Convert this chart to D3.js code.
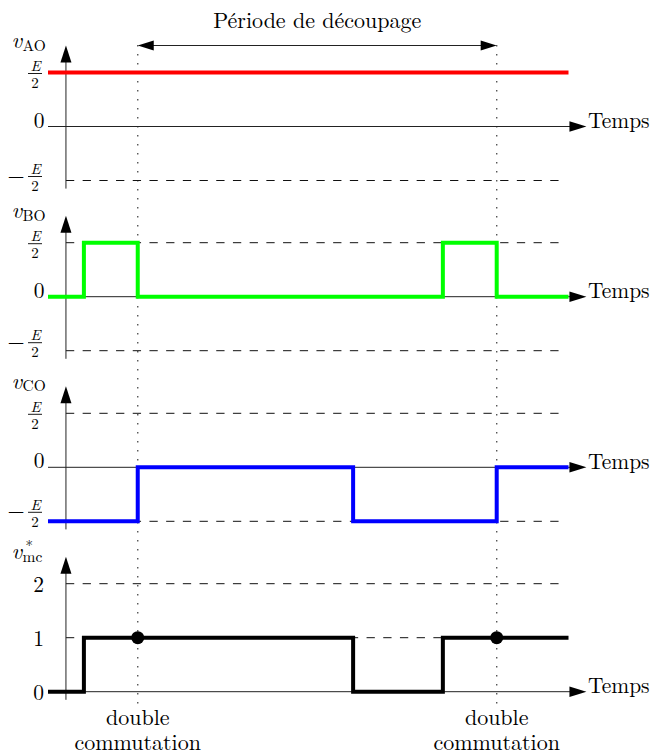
<!DOCTYPE html>
<html>
<head>
<meta charset="utf-8">
<script src="https://cdn.jsdelivr.net/npm/d3@7"></script>
<style>
  html, body { margin: 0; padding: 0; background: #fff; }
  svg { display: block; }
</style>
</head>
<body>
<svg id="chart" width="653" height="755"></svg>
<script>
// ---------------- DATA ----------------
const title = "Période de découpage";
const axisLabel = "Temps";
const commutationLabel = ["double", "commutation"];

// time in arbitrary units (switching instants)
const commutationTimes = [5, 25];

// v_AO (red)
const timesAO = [0, 29];
const valuesAO = [1, 1];
// v_BO (green)
const timesBO = [0, 2, 5, 22, 25, 29];
const valuesBO = [0, 1, 0, 1, 0, 0];
// v_CO (blue)
const timesCO = [0, 5, 17, 25, 29];
const valuesCO = [-1, 0, -1, 0, 0];
// v*_mc (black)
const timesMC = [0, 2, 17, 22, 29];
const valuesMC = [0, 1, 0, 1, 1];

// levels / tick labels
const levelsHalf = [1, 0, -1];          // E/2, 0, -E/2
const tickLabelsHalf = ["E/2", "0", "-E/2"];
const levelsMC = [2, 1, 0];
const tickLabelsMC = ["2", "1", "0"];
const dotValue = 1;

// ---------------- LAYOUT ----------------
const FONT = '"Latin Modern Roman", "CMU Serif", "Liberation Serif", serif';
const svg = d3.select("#chart");
const x = d3.scaleLinear().domain([0, 29]).range([48, 568.5]);
const tEnd = 30;      // axis arrow tip
const tGuideEnd = 28.5;
const tAxis = 1;      // vertical axis position

const panels = [
  { sub: "AO", star: false, color: "#ff0000", times: timesAO, values: valuesAO, dom: [-1, 1], top: 72.5, levels: levelsHalf, labels: tickLabelsHalf, guides: [1, -1], negOff: -4 },
  { sub: "BO", star: false, color: "#00ff00", times: timesBO, values: valuesBO, dom: [-1, 1], top: 242.7, levels: levelsHalf, labels: tickLabelsHalf, guides: [1, -1], negOff: -8 },
  { sub: "CO", star: false, color: "#0000ff", times: timesCO, values: valuesCO, dom: [-1, 1], top: 413.3, levels: levelsHalf, labels: tickLabelsHalf, guides: [1, -1], negOff: -9 },
  { sub: "mc", star: true, color: "#000000", times: timesMC, values: valuesMC, dom: [0, 2], top: 583.7, levels: levelsMC, labels: tickLabelsMC, guides: [2, 1], negOff: 0 }
];
panels.forEach(p => {
  p.y = d3.scaleLinear().domain(p.dom).range([p.top + 108, p.top]);
});

function txt(g, xx, yy, s, size, opts) {
  opts = opts || {};
  return g.append("text")
    .attr("x", xx).attr("y", yy)
    .style("font-family", FONT)
    .style("font-size", size + "px")
    .style("font-style", opts.italic ? "italic" : "normal")
    .attr("text-anchor", opts.anchor || "start")
    .attr("fill", "#000")
    .text(s);
}

function arrowHead(g, tipX, tipY, dir, len, half) {
  let pts;
  if (dir === "up") pts = [[tipX, tipY], [tipX - half, tipY + len], [tipX + half, tipY + len]];
  else if (dir === "right") pts = [[tipX, tipY], [tipX - len, tipY - half], [tipX - len, tipY + half]];
  else pts = [[tipX, tipY], [tipX + len, tipY - half], [tipX + len, tipY + half]];
  g.append("path").attr("d", "M" + pts.map(p => p.join(",")).join("L") + "Z").attr("fill", "#000");
}

// dotted verticals
const lastP = panels[3];
commutationTimes.forEach(t => {
  svg.append("line")
    .attr("x1", x(t)).attr("x2", x(t))
    .attr("y1", 45).attr("y2", lastP.y(-0.25))
    .attr("stroke", "#555").attr("stroke-width", 1.4)
    .attr("stroke-dasharray", "1.6 7.4");
});

// top period arrow
svg.append("line")
  .attr("x1", x(commutationTimes[0]) + 10).attr("x2", x(commutationTimes[1]) - 10)
  .attr("y1", 45.5).attr("y2", 45.5)
  .attr("stroke", "#222").attr("stroke-width", 1);
arrowHead(svg, x(commutationTimes[0]), 45.5, "left", 16, 5);
arrowHead(svg, x(commutationTimes[1]), 45.5, "right", 16, 5);
txt(svg, (x(commutationTimes[0]) + x(commutationTimes[1])) / 2, 28, title, 22, { anchor: "middle" });

const line = d3.line().curve(d3.curveStepAfter);

panels.forEach((p, i) => {
  const g = svg.append("g");
  const y = p.y;
  const vmin = p.dom[0], vmax = p.dom[1];

  // dashed guides
  p.guides.forEach(v => {
    g.append("line")
      .attr("x1", x(tAxis)).attr("x2", x(tGuideEnd))
      .attr("y1", y(v)).attr("y2", y(v))
      .attr("stroke", "#111").attr("stroke-width", 1)
      .attr("stroke-dasharray", "8.3 8.4");
  });

  // horizontal time axis at 0
  g.append("line")
    .attr("x1", x(0)).attr("x2", x(tEnd) - 12)
    .attr("y1", y(0)).attr("y2", y(0))
    .attr("stroke", "#222").attr("stroke-width", 1);
  arrowHead(g, x(tEnd), y(0), "right", 17, 5.2);
  txt(g, x(tEnd) + 1.5, y(0) + 1.5, axisLabel, 21.5);

  // vertical axis
  g.append("line")
    .attr("x1", x(tAxis)).attr("x2", x(tAxis))
    .attr("y1", y(vmin - 0.15)).attr("y2", y(vmax + 0.5) + 12)
    .attr("stroke", "#222").attr("stroke-width", 1);
  arrowHead(g, x(tAxis), y(vmax + 0.5), "up", 17, 5.5);

  // axis name v_XX
  const tipY = y(vmax + 0.5);
  txt(g, 11.5, tipY + 2.5, "v", 23, { italic: true });
  txt(g, 22.5, tipY + 5, p.sub, 15.5);
  if (p.star) {
    txt(g, 25.5, tipY - 5.5, "*", 15);
  }

  // tick labels
  p.levels.forEach((v, k) => {
    const lab = p.labels[k];
    const ly = y(v);
    if (lab === "E/2" || lab === "-E/2") {
      const barY = lab === "E/2" ? ly + 1 : ly + p.negOff;
      g.append("line").attr("x1", 28).attr("x2", 42)
        .attr("y1", barY).attr("y2", barY)
        .attr("stroke", "#000").attr("stroke-width", 0.9);
      txt(g, 35.5, barY - 2.5, "E", 15, { italic: true, anchor: "middle" });
      txt(g, 35, barY + 14.5, "2", 15, { anchor: "middle" });
      if (lab === "-E/2") {
        txt(g, 16, barY + 6, "−", 22, { anchor: "middle" });
      }
    } else if (p.star) {
      txt(g, 44, ly + 8.5, lab, 21.5, { anchor: "end" });
    } else {
      txt(g, 44.5, ly + 1, lab, 21.5, { anchor: "end" });
    }
  });

  // signal
  const pts = p.times.map((t, k) => [x(t), y(p.values[k])]);
  g.append("path")
    .attr("d", line(pts))
    .attr("fill", "none")
    .attr("stroke", p.color)
    .attr("stroke-width", 4)
    .attr("stroke-linejoin", "miter")
    .attr("stroke-linecap", "butt");

  if (p.star) {
    commutationTimes.forEach(t => {
      g.append("circle")
        .attr("cx", x(t)).attr("cy", y(dotValue))
        .attr("r", 6.5).attr("fill", "#000");
    });
  }
});

// bottom labels
commutationTimes.forEach(t => {
  txt(svg, x(t), 725, commutationLabel[0], 22, { anchor: "middle" });
  txt(svg, x(t), 749.5, commutationLabel[1], 22, { anchor: "middle" });
});
</script>
</body>
</html>
